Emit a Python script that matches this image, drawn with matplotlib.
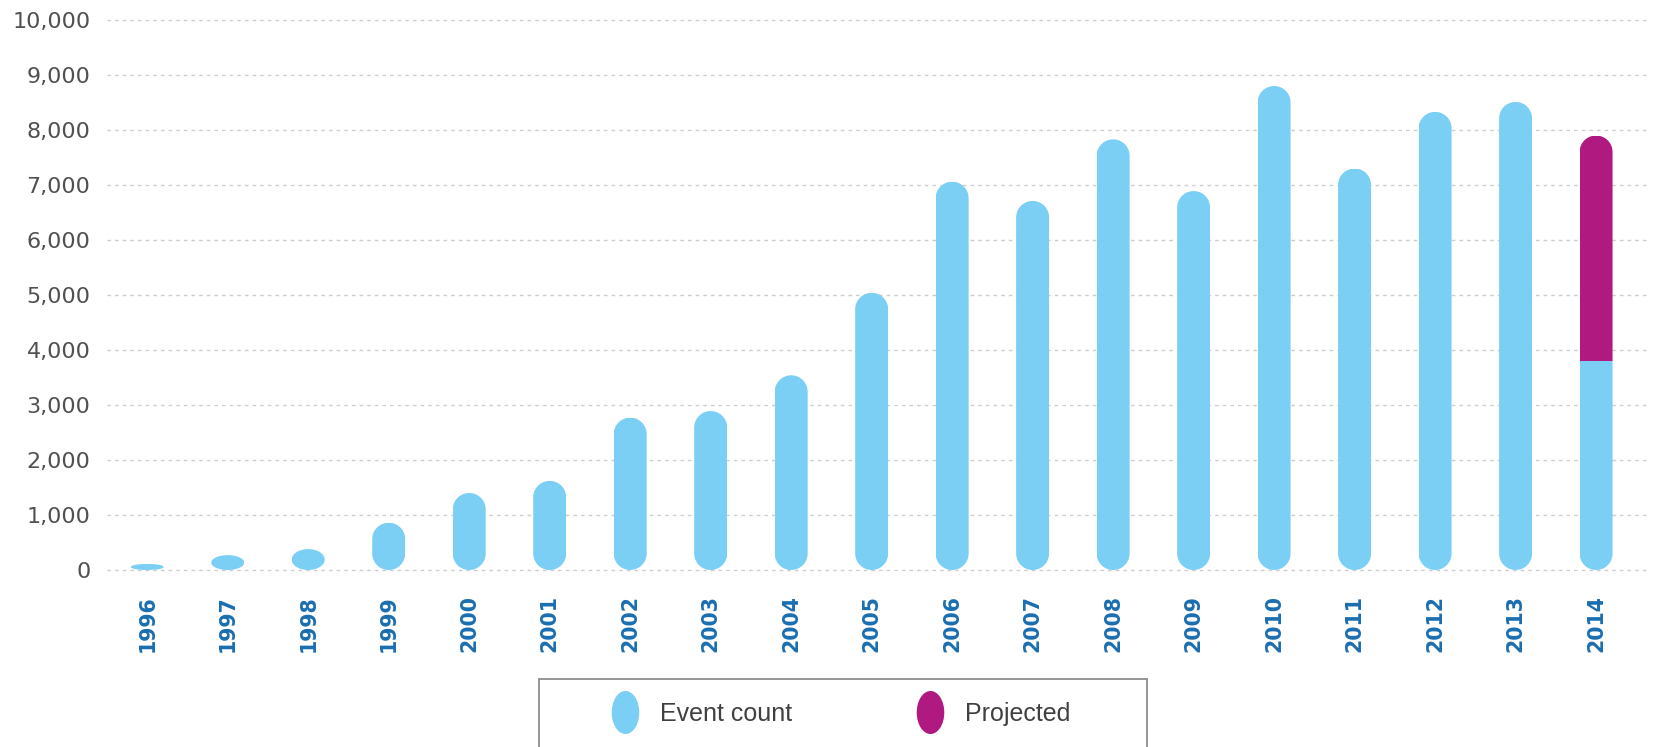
"""
Event count per year, 1996-2014, with the 2014 projection stacked on top.
Capsule-shaped bars, dashed horizontal grid, legend box below the axis.
"""

import numpy as np
import matplotlib
matplotlib.use("Agg")
import matplotlib.pyplot as plt
from matplotlib.patches import PathPatch, Rectangle
from matplotlib.lines import Line2D
from matplotlib.path import Path
from matplotlib.transforms import Affine2D

# Data
years = ["1996", "1997", "1998", "1999", "2000", "2001", "2002", "2003", "2004", "2005",
         "2006", "2007", "2008", "2009", "2010", "2011", "2012", "2013", "2014"]
event_count = [110, 270, 380, 860, 1400, 1620, 2770, 2890, 3540, 5040,
               7060, 6710, 7830, 6890, 8800, 7300, 8330, 8510, 3800]
projected = [0, 0, 0, 0, 0, 0, 0, 0, 0, 0,
             0, 0, 0, 0, 0, 0, 0, 0, 4100]
y_ticks = list(range(0, 10001, 1000))
y_tick_labels = [f"{v:,}" for v in y_ticks]
legend_labels = ["Event count", "Projected"]

BLUE = "#7ccff4"
MAGENTA = "#b0197f"

W_PX, H_PX, DPI = 1656, 747, 100
fig = plt.figure(figsize=(W_PX / DPI, H_PX / DPI), dpi=DPI)
fig.patch.set_facecolor("white")

ax_pos = [107 / W_PX, 1 - 574.4 / H_PX, (1650 - 107) / W_PX, (574.4 - 15.6) / H_PX]
ax = fig.add_axes(ax_pos)
ax.set_xlim(-0.5, 18.67)
ax.set_ylim(-80, 10080)

x = np.arange(len(years))
bar_width = 0.41
blue_bars = ax.bar(x, event_count, width=bar_width, color=BLUE, linewidth=0)
proj_bars = ax.bar(x, projected, width=bar_width, bottom=event_count,
                   color=MAGENTA, linewidth=0)

# data-y units per data-x unit at equal pixel length
ax_w_px = ax_pos[2] * W_PX
ax_h_px = ax_pos[3] * H_PX
x0, x1 = ax.get_xlim()
y0, y1 = ax.get_ylim()
k = ((y1 - y0) / ax_h_px) / ((x1 - x0) / ax_w_px)
totals = np.array(event_count) + np.array(projected)


def capsule(xc, w, top, ry):
    """Closed path of a bar from 0 to top with half-elliptic ends."""
    rx = w / 2
    t_top = np.linspace(0, np.pi, 40)
    t_bot = np.linspace(np.pi, 2 * np.pi, 40)
    xs = np.concatenate([xc + rx * np.cos(t_top), xc + rx * np.cos(t_bot)])
    ys = np.concatenate([top - ry + ry * np.sin(t_top), ry + ry * np.sin(t_bot)])
    verts = np.column_stack([xs, ys])
    verts = np.vstack([verts, verts[:1]])
    return Path(verts, closed=True)


# Round each bar: draw the full-height capsule of the stack in the segment's
# colour, clipped to the segment rectangle so the stacked join stays flat.
for bars in (blue_bars, proj_bars):
    for rect, total in zip(bars, totals):
        if rect.get_height() <= 0:
            continue
        w = rect.get_width()
        ry = min(w / 2 * k, total / 2)
        cap = PathPatch(capsule(rect.get_x() + w / 2, w, total, ry),
                        facecolor=rect.get_facecolor(), edgecolor="none", zorder=2)
        ax.add_patch(cap)
        cap.set_clip_path(rect)
        rect.set_visible(False)

# Axes styling
for s in ax.spines.values():
    s.set_visible(False)
ax.yaxis.grid(True, linestyle=(0, (2.5, 3)), color="#cccccc", linewidth=1)
ax.xaxis.grid(False)
ax.set_axisbelow(True)

ax.set_yticks(y_ticks)
ax.set_yticklabels(y_tick_labels, fontsize=16, color="#505050", family="DejaVu Sans")
ax.set_xticks(x)
ax.set_xticklabels(years, rotation=90, fontsize=14.8, color="#1a6eb0",
                   family="DejaVu Sans", fontweight="bold")
ax.tick_params(axis="y", length=0, pad=12)
ax.tick_params(axis="x", length=0, pad=15)

# Legend with vertical-ellipse handles
ellipse = Path.unit_circle().transformed(Affine2D().scale(0.64, 1.0))
handles = [
    Line2D([], [], linestyle="none", marker=ellipse, markersize=31,
           markerfacecolor=BLUE, markeredgecolor="none"),
    Line2D([], [], linestyle="none", marker=ellipse, markersize=31,
           markerfacecolor=MAGENTA, markeredgecolor="none"),
]
fig.legend(handles, legend_labels, loc="center left",
           bbox_to_anchor=(605 / W_PX, 1 - 714 / H_PX),
           ncol=2, frameon=False, borderpad=0, borderaxespad=0, numpoints=1,
           handlelength=1.6, handletextpad=0.6, columnspacing=4.72,
           prop={"family": "Liberation Sans", "size": 18}, labelcolor="#404040")

# Legend box (bottom edge runs off the image as in the reference)
fig.add_artist(Rectangle((539 / W_PX, -0.1), (1147 - 539) / W_PX,
                         (H_PX - 679) / H_PX + 0.1, transform=fig.transFigure,
                         fill=False, edgecolor="#8c8c8c", linewidth=1.3))

fig.savefig("out.png", dpi=DPI)
